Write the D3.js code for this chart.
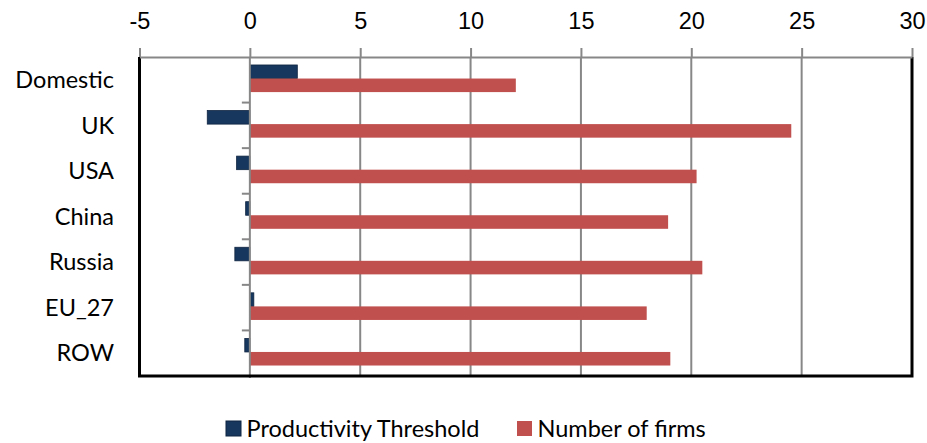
<!DOCTYPE html>
<html>
<head>
<meta charset="UTF-8">
<title>Productivity threshold and number of firms</title>
<style>
    body { margin: 0; padding: 0; background: #fff; }
    svg { display: block; font-family: 'Lato', 'Open Sans', sans-serif; }
    .axis text { font-size: 23.5px; fill: #000; }
    .axis path, .axis line { stroke: #878787; stroke-width: 2px; }
</style>
</head>
<body>
<svg></svg>
<script src="https://d3js.org/d3.v7.min.js"></script>
<script>

// chart data
let categories = ["Domestic", "UK", "USA", "China", "Russia", "EU_27", "ROW"];
let threshold = [2.15, -1.93, -0.6, -0.19, -0.68, 0.18, -0.23];
let firms = [12.05, 24.53, 20.24, 18.95, 20.5, 17.98, 19.05];
let seriesNames = ["Productivity Threshold", "Number of firms"];
let xTicks = [-5, 0, 5, 10, 15, 20, 25, 30];

let w = 927, h = 443;
let colors = ["#17375e", "#c0504d"];
let plotL = 139.5, plotR = 912, plotT = 57, plotB = 376;

let svg = d3.select("svg")
    .attr("width", w)
    .attr("height", h);

let x = d3.scaleLinear().domain([-5, 30]).range([plotL, plotR]);
let y = d3.scaleBand().domain(categories).range([plotT, plotB]);
let sub = d3.scaleBand().domain([0, 1])
    .range([y.bandwidth() * 0.175, y.bandwidth() * 0.77]);

// gridlines
svg.append("g")
    .selectAll("line")
    .data(xTicks.filter(d => d > -5 && d < 30 && d !== 0))
    .enter()
    .append("line")
    .attr("x1", d => x(d)).attr("x2", d => x(d))
    .attr("y1", plotT).attr("y2", plotB)
    .attr("stroke", "#878787")
    .attr("stroke-width", 2);

// bars
let rows = categories.map((c, i) => ({ cat: c, vals: [threshold[i], firms[i]] }));
let groups = svg.append("g")
    .selectAll("g")
    .data(rows)
    .enter()
    .append("g")
    .attr("transform", d => `translate(0,${y(d.cat)})`);

groups.selectAll("rect")
    .data(d => d.vals.map((v, s) => ({ v: v, s: s })))
    .enter()
    .append("rect")
    .attr("x", d => x(Math.min(0, d.v)))
    .attr("width", d => Math.abs(x(d.v) - x(0)))
    .attr("y", d => sub(d.s))
    .attr("height", sub.bandwidth())
    .attr("fill", d => colors[d.s])
    .attr("stroke", d => d.s === 0 ? "#0f2440" : "none")
    .attr("stroke-width", 0.8);

// zero axis with category ticks
svg.append("line")
    .attr("x1", x(0)).attr("x2", x(0))
    .attr("y1", plotT).attr("y2", plotB + 2)
    .attr("stroke", "#878787")
    .attr("stroke-width", 2);

svg.append("g")
    .selectAll("line")
    .data(categories.slice(1).concat(["end"]))
    .enter()
    .append("line")
    .attr("x1", x(0) - 8).attr("x2", x(0))
    .attr("y1", d => d === "end" ? plotB : y(d))
    .attr("y2", d => d === "end" ? plotB : y(d))
    .attr("stroke", "#878787")
    .attr("stroke-width", 2);

// plot border (left, right, bottom)
svg.append("path")
    .attr("d", `M${plotL},${plotT} V${plotB} H${plotR} V${plotT}`)
    .attr("fill", "none")
    .attr("stroke", "#000")
    .attr("stroke-width", 3);

// top axis, plain hyphen for negatives
let xAxis = svg.append("g")
    .attr("class", "axis")
    .attr("transform", `translate(0,${plotT})`)
    .call(d3.axisTop(x).tickValues(xTicks).tickFormat(d => String(d))
        .tickSize(9).tickSizeOuter(0).tickPadding(19));
xAxis.select(".domain").attr("stroke", "#595959");

// category labels
svg.append("g")
    .selectAll("text")
    .data(categories)
    .enter()
    .append("text")
    .attr("x", 114)
    .attr("y", d => y(d) + y.bandwidth() / 2)
    .attr("dy", "0.35em")
    .attr("text-anchor", "end")
    .style("font-size", "23.5px")
    .text(d => d);

// legend
let legendX = [226, 517];
let legend = svg.append("g")
    .selectAll("g")
    .data(seriesNames)
    .enter()
    .append("g")
    .attr("transform", (d, i) => `translate(${legendX[i]},421)`);

legend.append("rect")
    .attr("width", 15)
    .attr("height", 15)
    .attr("fill", (d, i) => colors[i])
    .attr("stroke", (d, i) => i === 0 ? "#0f2440" : "none");

legend.append("text")
    .attr("x", 20.5)
    .attr("y", 16)
    .style("font-size", "23.5px")
    .text(d => d);

</script>
</body>
</html>
